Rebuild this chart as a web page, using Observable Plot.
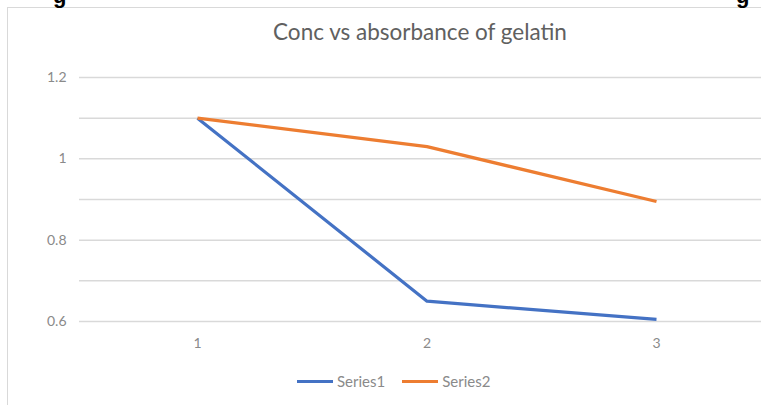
<!DOCTYPE html>
<html>
<head>
<meta charset="utf-8">
<script src="https://cdn.jsdelivr.net/npm/d3@7"></script>
<script src="https://cdn.jsdelivr.net/npm/@observablehq/plot@0.6"></script>
<style>
  html, body { margin: 0; padding: 0; background: #fff; }
  #wrap { position: relative; width: 761px; height: 405px; overflow: hidden; font-family: Lato, "Open Sans", sans-serif; }
  #frame { position: absolute; left: 7px; top: 7px; width: 800px; height: 420px; border-left: 1.5px solid #d9d9d9; border-top: 1.5px solid #d9d9d9; }
  .cut { position: absolute; top: -17px; font: bold 22px "Liberation Sans", Arial, sans-serif; color: #000; }
  #title { position: absolute; left: 0; width: 840px; top: 18px; text-align: center; font-size: 22.5px; color: #606060; }
  #chart { position: absolute; left: 0; top: 60px; }
  #legend { position: absolute; top: 372px; left: 297px; display: flex; align-items: center; font-size: 15px; color: #8a8a8a; }
  .sw { display: inline-block; width: 36px; height: 3px; margin-right: 4px; }
  .item { display: flex; align-items: center; margin-right: 17px; }
</style>
</head>
<body>
<div id="wrap">
  <div id="frame"></div>
  <div class="cut" style="left:53px">g</div>
  <div class="cut" style="left:736px">g</div>
  <div id="title">Conc vs absorbance of gelatin</div>
  <div id="chart"></div>
  <div id="legend"></div>
</div>
<script>
const categories = [1, 2, 3];
const seriesNames = ["Series1", "Series2"];
const series1 = [1.1, 0.65, 0.605];
const series2 = [1.1, 1.03, 0.895];
const yTickLabels = [0.6, 0.8, 1, 1.2];
const yGridValues = [0.6, 0.7, 0.8, 0.9, 1.0, 1.1, 1.2];
const colors = ["#4472C4", "#ED7D31"];

const data = [];
categories.forEach((c, i) => {
  data.push({x: c, y: series1[i], s: seriesNames[0]});
  data.push({x: c, y: series2[i], s: seriesNames[1]});
});

const chart = Plot.plot({
  width: 761,
  height: 291,
  marginLeft: 79,
  marginRight: 0,
  marginTop: 17,
  marginBottom: 30,
  style: {fontFamily: "Lato, 'Open Sans', sans-serif", fontSize: "14px", color: "#8a8a8a", background: "transparent"},
  x: {domain: [1, 3], range: [197, 656]},
  y: {domain: [0.6, 1.2]},
  color: {domain: seriesNames, range: colors},
  marks: [
    Plot.ruleY(yGridValues, {stroke: "#d9d9d9", strokeWidth: 1.5, strokeOpacity: 1}),
    Plot.axisY({ticks: yTickLabels, tickSize: 0, tickPadding: 13, tickFormat: d => String(d), label: null, fill: "#8a8a8a"}),
    Plot.axisX({ticks: categories, tickSize: 0, tickPadding: 17, tickFormat: d => String(d), label: null, fill: "#8a8a8a"}),
    Plot.line(data, {x: "x", y: "y", z: "s", stroke: "s", strokeWidth: 3.2, strokeLinejoin: "round", strokeLinecap: "butt"})
  ]
});
document.getElementById("chart").appendChild(chart);

const legend = document.getElementById("legend");
seriesNames.forEach((n, i) => {
  const it = document.createElement("div");
  it.className = "item";
  const sw = document.createElement("span");
  sw.className = "sw";
  sw.style.background = colors[i];
  const t = document.createElement("span");
  t.textContent = n;
  it.appendChild(sw);
  it.appendChild(t);
  legend.appendChild(it);
});
</script>
</body>
</html>
